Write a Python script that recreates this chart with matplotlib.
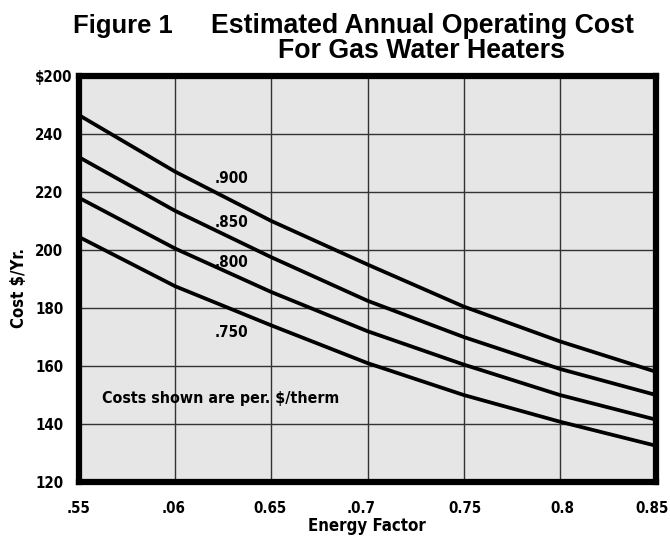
import matplotlib
matplotlib.use("Agg")
import matplotlib.pyplot as plt
from matplotlib import font_manager as fm
from matplotlib.transforms import offset_copy

# energy factor grid points and cost readings ($/yr) for each gas price curve
energy_factor = [0.55, 0.60, 0.65, 0.70, 0.75, 0.80, 0.85]
cost_900 = [246.5, 227.0, 210.0, 195.0, 180.5, 168.5, 158.0]
cost_850 = [232.0, 213.5, 197.5, 182.5, 170.0, 159.0, 150.0]
cost_800 = [218.0, 200.5, 185.5, 172.0, 160.5, 150.0, 141.5]
cost_750 = [204.5, 187.5, 174.0, 161.0, 150.0, 140.8, 132.5]

curve_labels = [".900", ".850", ".800", ".750"]
label_y = [223.1, 207.9, 194.1, 170.0]

x_ticks = [0.55, 0.60, 0.65, 0.70, 0.75, 0.80, 0.85]
x_tick_labels = [".55", ".06", "0.65", ".0.7", "0.75", "0.8", "0.85"]
x_label_nudge = [0, -2, -1, -6, 1, 3, -4]   # px, as printed in the original
y_ticks = [120, 140, 160, 180, 200, 220, 240, 260]
y_tick_labels = ["120", "140", "160", "180", "200", "220", "240", "$200"]

# pick a condensed bold face if one is installed
fonts = fm.fontManager.ttflist
names = {f.name for f in fonts}
if "Liberation Sans Narrow" in names:
    narrow = dict(family="Liberation Sans Narrow")
elif any(f.name == "DejaVu Sans" and "ondensed" in str(f.stretch) for f in fonts):
    narrow = dict(family="DejaVu Sans", stretch="condensed")
else:
    narrow = dict(family="Liberation Sans")
wide = dict(family=["Liberation Sans", "DejaVu Sans"])

fig = plt.figure(figsize=(6.7, 5.38), dpi=100)
W, H = 670, 538
left, right, top, bottom = 79, 656, 76, 482
ax = fig.add_axes([left / W, 1 - bottom / H, (right - left) / W, (bottom - top) / H])
ax.set_facecolor("#e6e6e6")


def fit(t, target, use_height=False):
    r = fig.canvas.get_renderer()
    bb = t.get_window_extent(r)
    size = bb.height if use_height else bb.width
    t.set_fontsize(t.get_fontsize() * target / size)


for ys in (cost_900, cost_850, cost_800, cost_750):
    ax.plot(energy_factor, ys, color="black", lw=2.7, zorder=3)

for lab, yy in zip(curve_labels, label_y):
    ax.text(0.6207, yy, lab, fontsize=11, fontweight="bold", ha="left",
            va="baseline", zorder=4, **narrow)

t = ax.text(0.562, 147.2, "Costs shown are per. $/therm", fontsize=12,
            fontweight="bold", ha="left", va="baseline", zorder=4, **narrow)
fit(t, 236)

ax.set_xlim(0.55, 0.85)
ax.set_ylim(120, 260)
ax.set_xticks(x_ticks)
ax.set_xticklabels([])
ax.set_yticks(y_ticks)
ax.set_yticklabels(y_tick_labels)
ax.tick_params(length=0)
ax.tick_params(axis="y", pad=31.7)
for t in ax.get_yticklabels():
    t.set_fontweight("bold")
    t.set_fontsize(10.8)
    t.set_ha("left")
    for k, v in narrow.items():
        getattr(t, "set_" + k)(v)

xform = ax.get_xaxis_transform()
for xv, lab, dx in zip(x_ticks, x_tick_labels, x_label_nudge):
    tr = offset_copy(xform, fig=fig, x=dx * 0.72, y=-13.5, units="points")
    ax.text(xv, 0, lab, transform=tr, ha="center", va="top", fontsize=10.8,
            fontweight="bold", clip_on=False, **narrow)

ax.grid(True, color="#333333", lw=1.0, zorder=1)
ax.set_axisbelow(True)
for s in ax.spines.values():
    s.set_linewidth(4.5)
    s.set_color("black")
    s.set_zorder(5)

t = fig.text(19 / W, 1 - 288 / H, "Cost $/Yr.", rotation=90, fontsize=12,
             fontweight="bold", ha="center", va="center", **narrow)
fit(t, 80, use_height=True)
t = fig.text(367 / W, 1 - 526 / H, "Energy Factor", fontsize=13,
             fontweight="bold", ha="center", va="center", **narrow)
fit(t, 118)

t = fig.text(73 / W, 1 - 33 / H, "Figure 1", fontsize=18.5, fontweight="bold",
             ha="left", va="baseline", **wide)
fit(t, 100)
t = fig.text(422 / W, 1 - 33 / H, "Estimated Annual Operating Cost", fontsize=18.5,
             fontweight="bold", ha="center", va="baseline", **wide)
fit(t, 425)
t = fig.text(421 / W, 1 - 58 / H, "For Gas Water Heaters", fontsize=18.5,
             fontweight="bold", ha="center", va="baseline", **wide)
fit(t, 288)

fig.savefig("out.png", dpi=100)
